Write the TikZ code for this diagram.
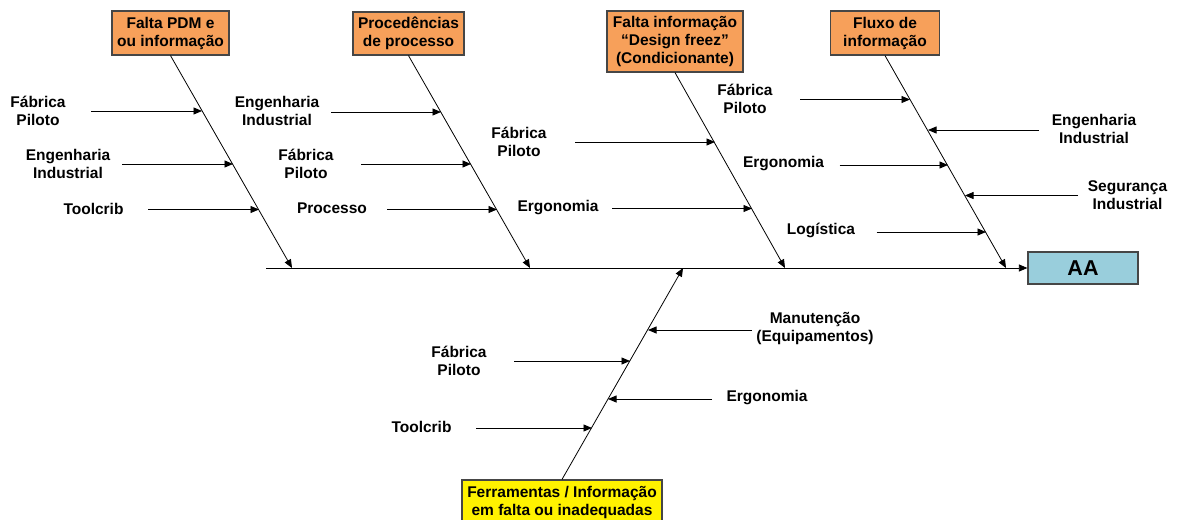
\documentclass[tikz,border=0pt]{standalone}
\usepackage{fontspec}
\setmainfont{Liberation Sans}
\usetikzlibrary{arrows.meta}
\definecolor{causeorange}{RGB}{247,160,90}
\definecolor{effectblue}{RGB}{153,206,220}
\definecolor{edgegray}{RGB}{70,70,70}
\tikzset{
  every node/.style={font=\fontsize{15.5}{18}\selectfont\bfseries, inner sep=0pt},
  lbl/.style={align=center},
  causebox/.style={draw=edgegray, line width=1.2pt, fill=causeorange, align=center},
  toolbox/.style={draw=edgegray, line width=1.2pt, fill=yellow, align=center},
  effectbox/.style={draw=edgegray, line width=1.2pt, fill=effectblue,
    font=\fontsize{21.5}{24}\selectfont\bfseries},
  tip/.style={-{Triangle[length=8.5pt,width=7pt]}},
  bone/.style={tip, line width=0.8pt},
  rib/.style={tip, line width=0.8pt},
  spine/.style={tip, line width=0.8pt}
}
\begin{document}
\begin{tikzpicture}[x=1pt,y=-1pt]
\useasboundingbox (0,0) rectangle (1177,519);
\clip (0,0) rectangle (1177,519);

% cause categories
\node[causebox, minimum width=117pt, minimum height=44pt] (k1) at (170.5,33) {Falta PDM e\\ou informação};
\node[causebox, minimum width=111pt, minimum height=43pt] (k2) at (408.5,33.5) {Procedências\\de processo};
\node[causebox, minimum width=136pt, minimum height=61pt] (k3) at (675,41.5) {Falta informação\\“Design freez”\\(Condicionante)};
\node[causebox, minimum width=109pt, minimum height=44pt] (k4) at (885,33) {Fluxo de\\informação};
\node[toolbox, minimum width=200pt, minimum height=44pt] (k5) at (562,502) {Ferramentas / Informação\\em falta ou inadequadas};

% effect
\node[effectbox, minimum width=110pt, minimum height=32pt] (aa) at (1083,268) {AA};

% spine
\coordinate (sp) at (266,268);
\draw[spine] (sp) -- (aa.west);

% bone ends on the spine
\coordinate (e1) at (292,268);
\coordinate (e2) at (530,268);
\coordinate (e3) at (785,268);
\coordinate (e4) at (1006,268);
\coordinate (e5) at (683,268);
\draw[bone] (k1.south) -- (e1);
\draw[bone] (k2.south) -- (e2);
\draw[bone] (k3.south) -- (e3);
\draw[bone] (k4.south) -- (e4);
\draw[bone] (k5.north) -- (e5);

% labels
\node[lbl] (l11) at (38,110.5) {Fábrica\\Piloto};
\node[lbl] (l12) at (68,163.5) {Engenharia\\Industrial};
\node[lbl] (l13) at (93.5,209) {Toolcrib};
\node[lbl] (l21) at (277,111) {Engenharia\\Industrial};
\node[lbl] (l22) at (306,163.5) {Fábrica\\Piloto};
\node[lbl] (l23) at (332,208.5) {Processo};
\node[lbl] (l31) at (519,141.5) {Fábrica\\Piloto};
\node[lbl] (l32) at (558,207.5) {Ergonomia};
\node[lbl] (l41) at (745,98.5) {Fábrica\\Piloto};
\node[lbl] (l42) at (1094,129) {Engenharia\\Industrial};
\node[lbl] (l43) at (783.5,164) {Ergonomia};
\node[lbl] (l44) at (1127.5,195) {Segurança\\Industrial};
\node[lbl] (l45) at (821,230.5) {Logística};
\node[lbl] (l51) at (815,329) {Manutenção\\(Equipamentos)};
\node[lbl] (l52) at (459,361) {Fábrica\\Piloto};
\node[lbl] (l53) at (767,398) {Ergonomia};
\node[lbl] (l54) at (421.5,426.5) {Toolcrib};

% rib start and end points
\coordinate (s11) at (91,111);    \coordinate (t11) at (202,111);
\coordinate (s12) at (122,164);   \coordinate (t12) at (233,164);
\coordinate (s13) at (148,209.5); \coordinate (t13) at (259,209.5);
\coordinate (s21) at (331,112);   \coordinate (t21) at (441,112);
\coordinate (s22) at (361,164);   \coordinate (t22) at (471,164);
\coordinate (s23) at (387,209.5); \coordinate (t23) at (497,209.5);
\coordinate (s31) at (575,142);   \coordinate (t31) at (715,142);
\coordinate (s32) at (612,208.5); \coordinate (t32) at (752,208.5);
\coordinate (s41) at (800,99.5);  \coordinate (t41) at (910,99.5);
\coordinate (s42) at (1039,130);  \coordinate (t42) at (928,130);
\coordinate (s43) at (839.5,165); \coordinate (t43) at (948,165);
\coordinate (s44) at (1078,195.5);\coordinate (t44) at (965,195.5);
\coordinate (s45) at (876.5,232); \coordinate (t45) at (986,232);
\coordinate (s51) at (752,330);   \coordinate (t51) at (648,330);
\coordinate (s52) at (514,361);   \coordinate (t52) at (630,361);
\coordinate (s53) at (712,399);   \coordinate (t53) at (608,399);
\coordinate (s54) at (476,428);   \coordinate (t54) at (592,428);

\foreach \r in {11,12,13,21,22,23,31,32,41,42,43,44,45,51,52,53,54}
  \draw[rib] (s\r) -- (t\r);
\end{tikzpicture}
\end{document}
